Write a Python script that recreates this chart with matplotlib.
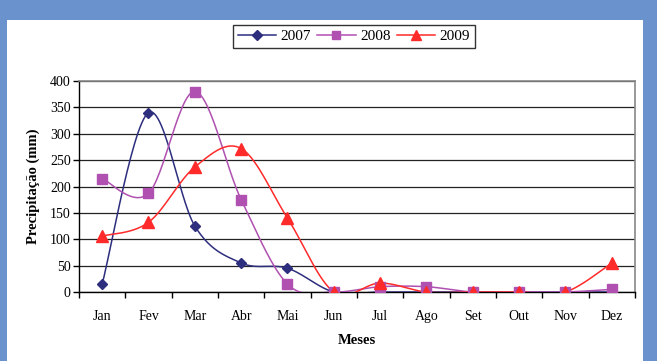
import numpy as np
import matplotlib
matplotlib.use("Agg")
import matplotlib.pyplot as plt
from matplotlib.patches import Rectangle

meses = ["Jan", "Fev", "Mar", "Abr", "Mai", "Jun", "Jul", "Ago", "Set", "Out", "Nov", "Dez"]
chuva_2007 = [15, 340, 125, 55, 45, 0, 0, 0, 0, 0, 0, 0]
chuva_2008 = [215, 187, 380, 175, 15, 0, 10, 10, 0, 0, 0, 5]
chuva_2009 = [106, 132, 237, 272, 140, 0, 17, 0, 0, 0, 0, 55]
yticks = [0, 50, 100, 150, 200, 250, 300, 350, 400]


def _smooth(x, y, n=30):
    # curva suavizada tipo Excel (Catmull-Rom em Bezier)
    x = np.asarray(x, float)
    y = np.asarray(y, float)
    xs, ys = [], []
    for i in range(len(x) - 1):
        i0 = max(i - 1, 0)
        i3 = min(i + 2, len(x) - 1)
        p0 = np.array([x[i], y[i]])
        p3 = np.array([x[i + 1], y[i + 1]])
        c1 = p0 + (np.array([x[i + 1], y[i + 1]]) - np.array([x[i0], y[i0]])) / 6
        c2 = p3 - (np.array([x[i3], y[i3]]) - np.array([x[i], y[i]])) / 6
        t = np.linspace(0, 1, n)[:, None]
        pts = ((1 - t) ** 3) * p0 + 3 * ((1 - t) ** 2) * t * c1 + 3 * (1 - t) * t ** 2 * c2 + t ** 3 * p3
        xs.extend(pts[:, 0])
        ys.extend(pts[:, 1])
    return np.array(xs), np.array(ys)


plt.rcParams["font.family"] = ["Liberation Serif", "DejaVu Serif"]

fig = plt.figure(figsize=(6.57, 3.61), dpi=100)
fig.patch.set_facecolor("#6A92CD")
fig.patches.append(Rectangle((7 / 657, 0), 636 / 657, 341 / 361,
                             transform=fig.transFigure, facecolor="white",
                             edgecolor="none", zorder=-5))

ax = fig.add_axes([79 / 657, 1 - 292 / 361, 556 / 657, 211 / 361])
ax.set_zorder(2)
ax.set_facecolor("white")

x = np.arange(len(meses))
series = [
    ("2007", chuva_2007, "#2E2E7E", "D", 5.5),
    ("2008", chuva_2008, "#B050B0", "s", 6.5),
    ("2009", chuva_2009, "#FF2A2A", "^", 8.0),
]
handles = []
for nome, vals, cor, mk, ms in series:
    sx, sy = _smooth(x, vals)
    ax.plot(sx, sy, color=cor, lw=1.1, zorder=3)
    ax.plot(x, vals, ls="none", marker=mk, color=cor, ms=ms, zorder=4)
    h, = ax.plot([], [], color=cor, lw=1.1, marker=mk, ms=ms * 0.85, label=nome)
    handles.append(h)

ax.set_xlim(-0.5, 11.5)
ax.set_ylim(0, 400)
ax.set_yticks(yticks)
ax.set_xticks(x)
ax.set_xticklabels(meses)
ax.set_xticks(np.arange(-0.5, 12, 1), minor=True)
ax.tick_params(axis="x", which="major", length=0, pad=13, labelsize=10)
ax.tick_params(axis="x", which="minor", length=4, direction="out", width=1)
ax.tick_params(axis="y", length=4, direction="out", width=1, pad=2, labelsize=10)
ax.grid(axis="y", color="#222222", lw=0.9)
ax.set_axisbelow(True)

for s in ["top", "right"]:
    ax.spines[s].set_color("#888888")
    ax.spines[s].set_linewidth(1.2)
for s in ["left", "bottom"]:
    ax.spines[s].set_color("black")
    ax.spines[s].set_linewidth(1.0)

ax.set_ylabel("Precipitação (mm)", fontweight="bold", fontsize=10.5, labelpad=7)
ax.set_xlabel("Meses", fontweight="bold", fontsize=10.5, labelpad=8)

leg = fig.legend(handles=handles, loc="center", bbox_to_anchor=(354 / 657, 1 - 36.5 / 361),
                 ncol=3, fontsize=11, frameon=True, fancybox=False, handlelength=2.5,
                 columnspacing=0.4, handletextpad=0.3, borderpad=0.3)
leg.get_frame().set_edgecolor("black")
leg.get_frame().set_linewidth(1.0)

fig.savefig("out.png", dpi=100, facecolor=fig.get_facecolor())
